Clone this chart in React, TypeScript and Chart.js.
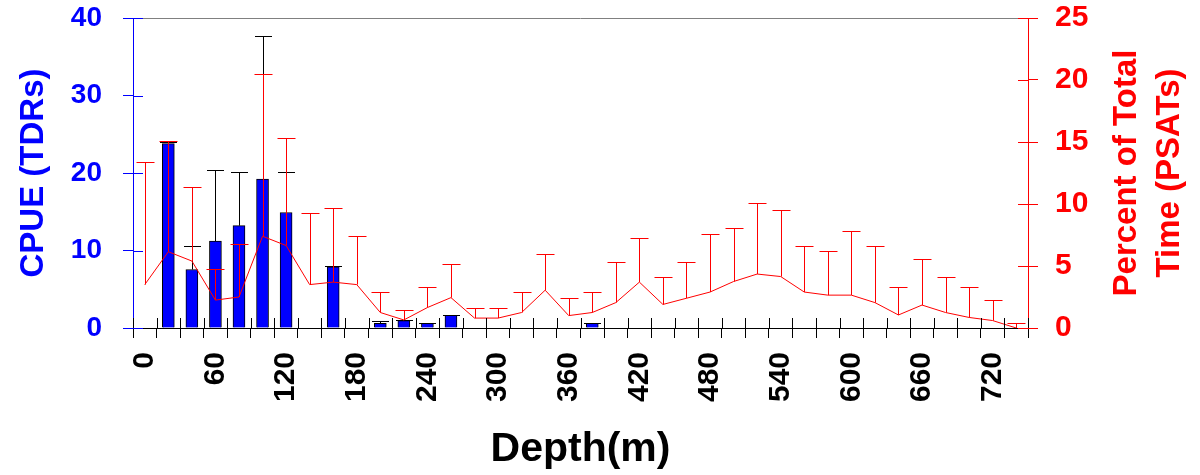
import React, { useEffect, useRef } from 'react';
import { Chart, registerables } from 'chart.js';

Chart.register(...registerables);

const FONT = "'Liberation Sans', Arial, Helvetica, sans-serif";

// Depth bins (m)
const depths = [
  '0', '20', '40', '60', '80', '100', '120', '140', '160', '180',
  '200', '220', '240', '260', '280', '300', '320', '340', '360', '380',
  '400', '420', '440', '460', '480', '500', '520', '540', '560', '580',
  '600', '620', '640', '660', '680', '700', '720', '740',
];

// Depth labels shown on the x axis
const xTickLabels = ['0', '60', '120', '180', '240', '300', '360', '420', '480', '540', '600', '660', '720'];

// CPUE (TDRs) – bars, left axis
const cpueValues = [
  null, 23.8, 7.55, 11.2, 13.2, 19.2, 14.9, null, 7.9, null,
  0.6, 0.95, 0.6, 1.65, null, null, null, null, null, 0.6,
  null, null, null, null, null, null, null, null, null, null,
  null, null, null, null, null, null, null, null,
];
const cpueErrors = [
  null, 0.15, 3.0, 9.2, 6.9, 18.5, 5.2, null, 0.1, null,
  0.35, 0.1, 0.05, 0.05, null, null, null, null, null, 0.05,
  null, null, null, null, null, null, null, null, null, null,
  null, null, null, null, null, null, null, null,
];

// Percent of total time (PSATs) – line, right axis
const psatValues = [
  3.5, 6.15, 5.4, 2.25, 2.5, 7.4, 6.65, 3.5, 3.7, 3.5,
  1.25, 0.65, 1.65, 2.45, 0.8, 0.8, 1.25, 3.05, 1.0, 1.25,
  2.05, 3.7, 1.9, 2.4, 2.9, 3.75, 4.35, 4.15, 2.9, 2.65,
  2.65, 2.05, 1.05, 1.85, 1.25, 0.85, 0.6, 0.0,
];
const psatErrors = [
  9.9, 8.95, 5.95, 2.5, 4.25, 13.05, 8.65, 5.8, 6.0, 3.95,
  1.65, 0.8, 1.65, 2.7, 0.85, 0.85, 1.65, 2.9, 1.45, 1.65,
  3.3, 3.55, 2.2, 2.95, 4.7, 4.3, 5.75, 5.35, 3.7, 3.55,
  5.2, 4.55, 2.25, 3.7, 2.85, 2.45, 1.65, 0.4,
];

const leftTitle = 'CPUE (TDRs)';
const rightTitleLines = ['Percent of Total', 'Time (PSATs)'];
const xTitle = 'Depth(m)';

const errorBarPlugin = {
  id: 'errorBars',
  afterDatasetDraw(chart: any, args: any) {
    const ds: any = chart.data.datasets[args.index];
    const errs = ds.errorValues;
    if (!errs) return;
    const meta = args.meta;
    const yScale = chart.scales[meta.yAxisID];
    const ctx = chart.ctx;
    const cap = ds.errorCap || 18;
    ctx.save();
    ctx.strokeStyle = ds.errorColor || '#000';
    ctx.lineWidth = 1;
    meta.data.forEach((el: any, i: number) => {
      const v = ds.data[i];
      const e = errs[i];
      if (v == null || e == null) return;
      const x = Math.round(el.x) + 0.5;
      const y0 = yScale.getPixelForValue(v);
      const y1 = Math.round(yScale.getPixelForValue(v + e)) + 0.5;
      ctx.beginPath();
      ctx.moveTo(x, y0);
      ctx.lineTo(x, y1);
      ctx.moveTo(x - cap / 2, y1);
      ctx.lineTo(x + cap / 2, y1);
      ctx.stroke();
    });
    ctx.restore();
  },
};

const framePlugin = {
  id: 'frame',
  beforeDatasetsDraw(chart: any) {
    const { ctx, chartArea } = chart;
    ctx.save();
    ctx.strokeStyle = '#808080';
    ctx.lineWidth = 1;
    const y = Math.round(chartArea.top) + 0.5;
    ctx.beginPath();
    ctx.moveTo(chartArea.left, y);
    ctx.lineTo(chartArea.right, y);
    ctx.stroke();
    ctx.restore();
  },
  afterDraw(chart: any) {
    const { ctx, chartArea, scales } = chart;
    const len = 10;
    ctx.save();
    ctx.lineWidth = 1;
    // inner halves of the left ticks
    ctx.strokeStyle = '#0000FF';
    scales.y.ticks.forEach((_t: any, i: number) => {
      const py = Math.round(scales.y.getPixelForTick(i)) + 0.5;
      ctx.beginPath();
      ctx.moveTo(chartArea.left, py);
      ctx.lineTo(chartArea.left + len, py);
      ctx.stroke();
    });
    // inner halves of the right ticks
    ctx.strokeStyle = '#FF0000';
    scales.y1.ticks.forEach((_t: any, i: number) => {
      const py = Math.round(scales.y1.getPixelForTick(i)) + 0.5;
      ctx.beginPath();
      ctx.moveTo(chartArea.right - len, py);
      ctx.lineTo(chartArea.right, py);
      ctx.stroke();
    });
    // inner halves of the x ticks (category boundaries)
    ctx.strokeStyle = '#000000';
    for (let i = 0; i <= depths.length; i++) {
      const px = Math.round(scales.x.getPixelForValue(i - 0.5)) + 0.5;
      ctx.beginPath();
      ctx.moveTo(px, chartArea.bottom - len);
      ctx.lineTo(px, chartArea.bottom);
      ctx.stroke();
    }
    // right axis title, two lines, reading bottom to top
    const cy = (chartArea.top + chartArea.bottom) / 2;
    ctx.fillStyle = '#FF0000';
    ctx.font = `bold 33px ${FONT}`;
    ctx.textAlign = 'center';
    ctx.textBaseline = 'alphabetic';
    ctx.translate(chartArea.right + 108, cy);
    ctx.rotate(-Math.PI / 2);
    rightTitleLines.forEach((line, i) => {
      ctx.fillText(line, 0, i * 43);
    });
    ctx.restore();
  },
};

const fixVertical = (width: number) => (s: any) => {
  s.width = width;
  s.paddingTop = 0;
  s.paddingBottom = 0;
};

export default function App() {
  const ref = useRef<HTMLCanvasElement | null>(null);

  useEffect(() => {
    document.body.style.margin = '0';
    if (!ref.current) return;
    const chart = new Chart(ref.current, {
      type: 'bar',
      data: {
        labels: depths,
        datasets: [
          {
            type: 'bar',
            label: 'CPUE (TDRs)',
            data: cpueValues as any,
            backgroundColor: '#0000FF',
            borderColor: '#000000',
            borderWidth: 1,
            barThickness: 12,
            yAxisID: 'y',
            order: 1,
            errorValues: cpueErrors,
            errorColor: '#000000',
            errorCap: 17,
          } as any,
          {
            type: 'line',
            label: 'Percent of Total Time (PSATs)',
            data: psatValues,
            borderColor: '#FF0000',
            borderWidth: 1,
            pointRadius: 0,
            tension: 0,
            fill: false,
            yAxisID: 'y1',
            order: 0,
            errorValues: psatErrors,
            errorColor: '#FF0000',
            errorCap: 18,
          } as any,
        ],
      },
      options: {
        animation: false,
        responsive: false,
        devicePixelRatio: 1,
        layout: { padding: { top: 18, left: 0, right: 0, bottom: 0 } },
        plugins: { legend: { display: false }, tooltip: { enabled: false } },
        scales: {
          x: {
            type: 'category',
            offset: true,
            grid: {
              offset: true,
              drawOnChartArea: false,
              drawTicks: true,
              tickLength: 10,
              color: '#000000',
              tickColor: '#000000',
            },
            border: { color: '#000000', width: 1 },
            ticks: {
              autoSkip: false,
              minRotation: 90,
              maxRotation: 90,
              padding: 14,
              color: '#000000',
              font: { family: FONT, size: 30, weight: 'bold' },
              callback: (_v: any, i: number) => (xTickLabels.includes(depths[i]) ? depths[i] : ''),
            },
            title: {
              display: true,
              text: xTitle,
              color: '#000000',
              font: { family: FONT, size: 41, weight: 'bold' },
              padding: { top: 0, bottom: 1 },
            },
            afterFit: (s: any) => {
              s.height = 147;
              s.paddingLeft = 0;
              s.paddingRight = 0;
            },
          },
          y: {
            type: 'linear',
            position: 'left',
            min: 0,
            max: 40,
            ticks: {
              stepSize: 10,
              padding: 21,
              color: '#0000FF',
              font: { family: FONT, size: 28, weight: 'bold' },
            },
            grid: {
              drawOnChartArea: false,
              drawTicks: true,
              tickLength: 10,
              color: '#0000FF',
              tickColor: '#0000FF',
            },
            border: { color: '#0000FF', width: 1 },
            title: {
              display: true,
              text: leftTitle,
              color: '#0000FF',
              font: { family: FONT, size: 33, weight: 'bold' },
              padding: { top: 14, bottom: 0 },
            },
            afterFit: fixVertical(133),
          },
          y1: {
            type: 'linear',
            position: 'right',
            min: 0,
            max: 25,
            ticks: {
              stepSize: 5,
              padding: 17,
              color: '#FF0000',
              font: { family: FONT, size: 30, weight: 'bold' },
            },
            grid: {
              drawOnChartArea: false,
              drawTicks: true,
              tickLength: 10,
              color: '#FF0000',
              tickColor: '#FF0000',
            },
            border: { color: '#FF0000', width: 1 },
            afterFit: fixVertical(172),
          },
        },
      } as any,
      plugins: [errorBarPlugin, framePlugin],
    });
    return () => chart.destroy();
  }, []);

  return (
    <div style={{ width: 1200, height: 475 }}>
      <canvas ref={ref} width={1200} height={475} style={{ display: 'block' }} />
    </div>
  );
}
